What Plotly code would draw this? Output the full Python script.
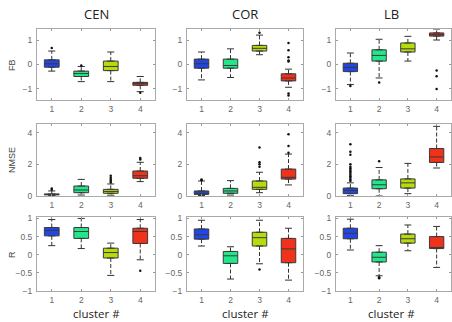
import plotly.graph_objects as go

categories = [1, 2, 3, 4]
tick_labels = ["1", "2", "3", "4"]
colors = ["#2145e6", "#22e68a", "#b6dc0e", "#f0321a"]
col_titles = ["CEN", "COR", "LB"]
row_titles = ["FB", "NMSE", "R"]

# five-number summaries per cluster: (lower whisker, q1, median, q3, upper whisker)
cen_fb = [(-0.27, -0.11, 0.03, 0.19, 0.55), (-0.70, -0.49, -0.37, -0.27, -0.08),
          (-0.70, -0.25, -0.08, 0.14, 0.51), (-1.11, -0.85, -0.78, -0.73, -0.49)]
cor_fb = [(-0.63, -0.15, 0.03, 0.22, 0.51), (-0.53, -0.15, -0.04, 0.22, 0.64),
          (0.40, 0.55, 0.66, 0.78, 1.20), (-0.93, -0.67, -0.55, -0.38, -0.19)]
lb_fb = [(-0.82, -0.29, -0.12, 0.05, 0.47), (-0.55, 0.14, 0.37, 0.60, 1.03),
         (0.14, 0.51, 0.64, 0.88, 1.15), (1.00, 1.16, 1.22, 1.29, 1.45)]
cen_nmse = [(0.02, 0.07, 0.10, 0.13, 0.32), (0.06, 0.21, 0.38, 0.63, 1.05),
            (0.05, 0.17, 0.29, 0.42, 0.76), (0.91, 1.12, 1.28, 1.58, 2.13)]
cor_nmse = [(0.03, 0.10, 0.17, 0.32, 0.95), (0.06, 0.17, 0.32, 0.48, 0.97),
            (0.21, 0.42, 0.55, 0.95, 1.50), (0.70, 1.07, 1.18, 1.70, 2.65)]
lb_nmse = [(0.02, 0.15, 0.35, 0.50, 0.83), (0.00, 0.46, 0.71, 1.02, 1.80),
           (0.15, 0.50, 0.83, 1.08, 2.06), (1.77, 2.12, 2.47, 3.00, 4.40)]
cen_r = [(0.25, 0.52, 0.67, 0.75, 0.97), (0.17, 0.45, 0.64, 0.75, 1.00),
         (-0.57, -0.09, 0.06, 0.18, 0.32), (-0.14, 0.31, 0.64, 0.73, 0.97)]
cor_r = [(0.24, 0.43, 0.55, 0.71, 0.95), (-0.67, -0.24, -0.03, 0.09, 0.22),
         (-0.25, 0.24, 0.47, 0.62, 0.95), (-0.70, -0.22, 0.16, 0.45, 0.73)]
lb_r = [(0.13, 0.44, 0.59, 0.73, 0.98), (-0.58, -0.20, -0.07, 0.07, 0.25),
        (0.11, 0.32, 0.44, 0.57, 0.82), (-0.35, 0.17, 0.20, 0.50, 0.78)]

# outliers: (cluster, value)
cen_fb_out = [(1, 0.67), (2, -0.04), (4, -1.15)]
cor_fb_out = [(3, 1.30), (4, 0.88), (4, 0.58), (4, 0.30), (4, 0.16), (4, 0.12),
              (4, -1.18), (4, -1.27)]
lb_fb_out = [(1, -0.88), (2, -0.74), (4, -0.25), (4, -0.48), (4, -1.0)]
cen_nmse_out = [(1, 0.40), (1, 0.48), (3, 0.85), (3, 0.95), (3, 1.05), (3, 1.15),
                (3, 1.28), (4, 2.30), (4, 2.40)]
cor_nmse_out = [(1, 1.0), (1, 1.05), (3, 1.85), (3, 2.0), (3, 2.13), (3, 3.07),
                (4, 2.74), (4, 3.16), (4, 3.90)]
lb_nmse_out = [(1, 0.95), (1, 1.05), (1, 1.15), (1, 1.25), (1, 1.35), (1, 1.45),
               (1, 1.55), (1, 1.65), (1, 1.75), (1, 1.85), (1, 2.0), (1, 2.6),
               (1, 2.8), (1, 3.27), (2, 2.2)]
cen_r_out = [(4, -0.44)]
cor_r_out = [(3, -0.41)]
lb_r_out = [(2, -0.62), (2, -0.65)]

panels = [
    [(cen_fb, cen_fb_out), (cor_fb, cor_fb_out), (lb_fb, lb_fb_out)],
    [(cen_nmse, cen_nmse_out), (cor_nmse, cor_nmse_out), (lb_nmse, lb_nmse_out)],
    [(cen_r, cen_r_out), (cor_r, cor_r_out), (lb_r, lb_r_out)],
]
y_ranges = [[-1.45, 1.45], [0, 4.55], [-1, 1.04]]
y_ticks = [[-1, 0, 1], [0, 2, 4], [-1, -0.5, 0, 0.5, 1]]

W, H = 452, 322
x_dom = [[37 / W, 155 / W], [187 / W, 303 / W], [336 / W, 451 / W]]
y_dom = [[1 - 100 / H, 1 - 29 / H], [1 - 196 / H, 1 - 124 / H], [1 - 291 / H, 1 - 217 / H]]

fig = go.Figure()
tick_font = dict(family="Liberation Sans, Arial", size=8.5, color="#666")
cap = 0.12

for r in range(3):
    for c in range(3):
        idx = r * 3 + c + 1
        xa = "x" if idx == 1 else f"x{idx}"
        ya = "y" if idx == 1 else f"y{idx}"
        stats, outs = panels[r][c]
        for k, cat in enumerate(categories):
            lo, q1, med, q3, hi = stats[k]
            fig.add_trace(go.Scatter(
                x=[cat, cat, None, cat, cat], y=[q3, hi, None, q1, lo],
                mode="lines", line=dict(color="#333", width=1, dash="4px,2px"),
                xaxis=xa, yaxis=ya, showlegend=False, hoverinfo="skip"))
            fig.add_trace(go.Scatter(
                x=[cat - cap, cat + cap, None, cat - cap, cat + cap],
                y=[hi, hi, None, lo, lo],
                mode="lines", line=dict(color="#333", width=1),
                xaxis=xa, yaxis=ya, showlegend=False, hoverinfo="skip"))
            fig.add_trace(go.Box(
                x=[cat], q1=[q1], median=[med], q3=[q3],
                lowerfence=[q1], upperfence=[q3],
                width=0.5, fillcolor=colors[k],
                line=dict(color="#3a3a3a", width=1),
                xaxis=xa, yaxis=ya, showlegend=False, boxpoints=False,
                hoverinfo="skip"))
        if outs:
            fig.add_trace(go.Scatter(
                x=[o[0] for o in outs], y=[o[1] for o in outs], mode="markers",
                marker=dict(color="#111", size=2.5),
                xaxis=xa, yaxis=ya, showlegend=False, hoverinfo="skip"))
        axis_x = dict(domain=x_dom[c], anchor=ya, range=[0.5, 4.5],
                      tickvals=categories, ticktext=tick_labels,
                      ticks="inside", ticklen=2, tickcolor="#999", mirror="ticks",
                      showline=True, linecolor="#aaa", linewidth=1,
                      showgrid=False, zeroline=False, tickfont=tick_font,
                      ticklabelstandoff=1, automargin=False)
        axis_y = dict(domain=y_dom[r], anchor=xa, range=y_ranges[r],
                      tickvals=y_ticks[r],
                      ticks="inside", ticklen=2, tickcolor="#999", mirror="ticks",
                      showline=True, linecolor="#aaa", linewidth=1,
                      showgrid=False, zeroline=False, tickfont=tick_font,
                      ticklabelstandoff=2, automargin=False)
        fig.layout["xaxis" if idx == 1 else f"xaxis{idx}"] = axis_x
        fig.layout["yaxis" if idx == 1 else f"yaxis{idx}"] = axis_y

title_font = dict(family="Open Sans, Lato, sans-serif", size=13, color="#222")
col_centers = [96, 245, 391]
for c in range(3):
    fig.add_annotation(text=col_titles[c], x=col_centers[c] / W, y=1 - 14 / H,
                       xref="paper", yref="paper", showarrow=False, font=title_font,
                       xanchor="center", yanchor="middle")
    fig.add_annotation(text="cluster #", x=col_centers[c] / W, y=1 - 313 / H,
                       xref="paper", yref="paper", showarrow=False,
                       font=dict(family="Open Sans, Lato, sans-serif", size=11.5, color="#222"),
                       xanchor="center", yanchor="middle")

row_centers = [65, 160, 255]
for r in range(3):
    fig.add_annotation(text=row_titles[r], x=12 / W, y=1 - row_centers[r] / H,
                       xref="paper", yref="paper", showarrow=False, textangle=-90,
                       xanchor="center", yanchor="middle",
                       font=dict(family="Liberation Sans, Arial", size=9, color="#444"))

fig.update_layout(width=W, height=H, margin=dict(l=0, r=0, t=0, b=0),
                  paper_bgcolor="white", plot_bgcolor="white", showlegend=False)

fig.write_html("out.html", config={"displayModeBar": False},
               post_script="document.body.style.margin='0';document.body.style.overflow='hidden';")
